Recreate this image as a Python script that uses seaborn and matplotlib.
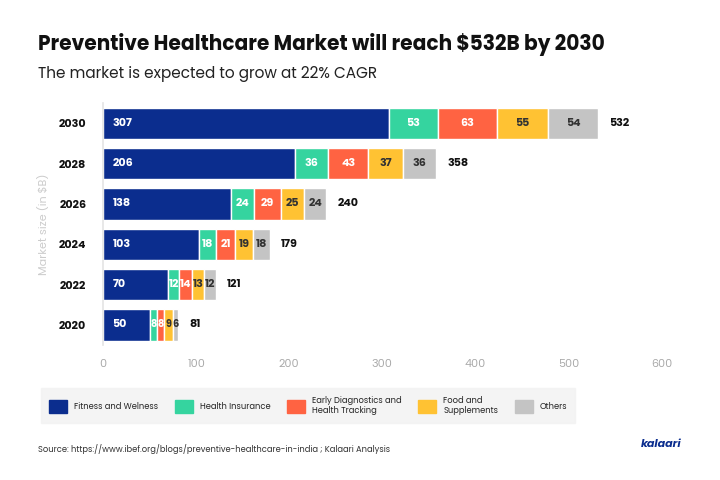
import matplotlib.pyplot as plt
import matplotlib.patches as mpatches
import seaborn as sns

sns.set_theme(style="white")
plt.rcParams["font.family"] = ["Poppins", "Lato", "DejaVu Sans"]

years = ["2030", "2028", "2026", "2024", "2022", "2020"]
fitness = [307, 206, 138, 103, 70, 50]
insurance = [53, 36, 24, 18, 12, 8]
diagnostics = [63, 43, 29, 21, 14, 8]
food = [55, 37, 25, 19, 13, 9]
others = [54, 36, 24, 18, 12, 6]
totals = [532, 358, 240, 179, 121, 81]

segments = [
    ("Fitness and Welness", fitness, "#0b2d8e", "white"),
    ("Health Insurance", insurance, "#35d49f", "white"),
    ("Early Diagnostics and\nHealth Tracking", diagnostics, "#ff6342", "white"),
    ("Food and\nSupplements", food, "#ffc233", "#333333"),
    ("Others", others, "#c4c4c4", "#333333"),
]

fig = plt.figure(figsize=(7.2, 4.8), dpi=100)
ax = fig.add_axes([0.143, 0.281, 0.776, 0.504])

left = [0] * len(years)
pos = list(range(len(years)))
for name, vals, color, tcol in segments:
    ax.barh(pos, vals, left=left, color=color, height=0.78, label=name)
    for i, v in enumerate(vals):
        fs = 8 if v >= 10 else 7
        if name.startswith("Fitness"):
            ax.text(left[i] + 10, i, str(v), va="center", ha="left", color=tcol, fontsize=8, fontweight="bold")
        else:
            ax.text(left[i] + v / 2, i, str(v), va="center", ha="center", color=tcol, fontsize=fs, fontweight="bold")
    left = [a + b for a, b in zip(left, vals)]

for i, t in enumerate(totals):
    ax.text(t + 12, i, str(t), va="center", ha="left", fontsize=8, fontweight="bold", color="#111111")

ax.set_yticks(pos)
ax.set_yticklabels(years, fontsize=8, fontweight="bold", color="#111111")
ax.set_ylim(len(years) - 0.5, -0.5)
ax.set_xlim(0, 600)
ax.set_xticks(range(0, 601, 100))
ax.tick_params(axis="x", colors="#aaaaaa", labelsize=8, length=0, pad=10)
ax.tick_params(axis="y", length=0, pad=12)
for s in ["top", "right", "bottom"]:
    ax.spines[s].set_visible(False)
ax.spines["left"].set_color("#e5e5e5")
ax.set_ylabel("Market size (in $B)", color="#cccccc", fontsize=8, labelpad=6)

fig.text(0.053, 0.895, "Preventive Healthcare Market will reach $532B by 2030",
         fontsize=14.5, fontweight="bold", color="#111111")
fig.text(0.053, 0.838, "The market is expected to grow at 22% CAGR", fontsize=11, color="#222222")

handles = [mpatches.Patch(color=c, label=n) for n, _, c, _ in segments]
leg = fig.legend(handles=handles, loc="center left", bbox_to_anchor=(0.055, 0.155), ncol=5,
                 fontsize=6, frameon=True, facecolor="#f2f2f2", edgecolor="#f2f2f2",
                 handlelength=2.2, handleheight=2.2, columnspacing=2.0, borderpad=0.6)
leg.get_frame().set_boxstyle("square")

fig.text(0.053, 0.058, "Source: https://www.ibef.org/blogs/preventive-healthcare-in-india ; Kalaari Analysis",
         fontsize=6, color="#333333")
fig.text(0.89, 0.068, "kalaari", fontsize=8, color="#0b2d8e", fontweight="bold", style="italic")

fig.savefig("out.png", dpi=100)
